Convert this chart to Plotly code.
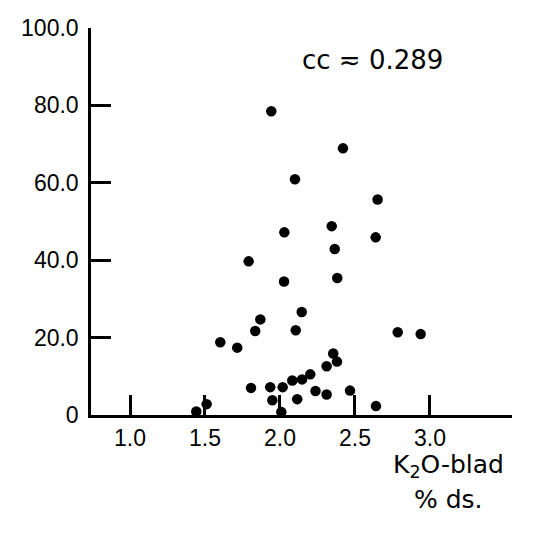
import plotly.graph_objects as go

# K2O-blad (% ds.) values and y-values
k2o = [1.942, 2.100, 2.420, 2.651, 2.345, 2.029, 2.638, 2.365, 1.791, 2.027,
       2.382, 2.145, 1.869, 1.835, 2.105, 1.602, 1.715, 2.785, 2.938, 2.355,
       2.380, 2.311, 2.202, 2.147, 2.082, 2.018, 1.935, 1.807, 2.237, 2.311,
       2.467, 1.949, 2.115, 1.511, 1.442, 2.009, 2.640]
yvals = [78.5, 60.9, 68.9, 55.7, 48.8, 47.2, 45.9, 42.9, 39.7, 34.5,
         35.4, 26.6, 24.7, 21.7, 21.9, 18.8, 17.4, 21.4, 20.9, 15.9,
         13.8, 12.6, 10.5, 9.2, 8.9, 7.2, 7.2, 7.0, 6.2, 5.3,
         6.3, 3.8, 4.1, 2.8, 0.9, 0.8, 2.3]

x_tickvals = [1.0, 1.5, 2.0, 2.5, 3.0]
x_ticktext = ["1.0", "1.5", "2.0", "2.5", "3.0"]
y_tickvals = [0, 20, 40, 60, 80, 100]
y_ticktext = ["0", "20.0", "40.0", "60.0", "80.0", "100.0"]

cc_label = "cc ≂ 0.289"
x_title_1 = "K<sub>2</sub>O-blad"
x_title_2 = "% ds."

fig = go.Figure()
fig.add_trace(go.Scatter(
    x=k2o, y=yvals, mode="markers",
    marker=dict(color="black", size=10.5, line=dict(width=0)),
    cliponaxis=False, showlegend=False,
))

axis_common = dict(
    showgrid=False, zeroline=False, showline=True, linecolor="black",
    linewidth=2.5, ticks="inside", ticklen=20, tickwidth=2.5,
    tickcolor="black", automargin=False,
    tickfont=dict(family="Liberation Sans, Arial, sans-serif", size=23, color="black"),
)

fig.update_xaxes(range=[0.74, 3.547], tickmode="array", tickvals=x_tickvals,
                 ticktext=x_ticktext, ticklabelstandoff=1, **axis_common)
fig.update_yaxes(range=[0, 100], tickmode="array", tickvals=y_tickvals,
                 ticktext=y_ticktext, ticklabelstandoff=5, **axis_common)

cc_font = dict(family="DejaVu Sans, sans-serif", size=26, color="black")
txt_font = dict(family="DejaVu Sans, sans-serif", size=25, color="black")
fig.add_annotation(text=cc_label, xref="paper", yref="paper", x=0.6686, y=0.917,
                   showarrow=False, font=cc_font, xanchor="center", yanchor="middle")
fig.add_annotation(text=x_title_1, xref="paper", yref="paper", x=0.850, y=-0.133,
                   showarrow=False, font=txt_font, xanchor="center", yanchor="middle")
fig.add_annotation(text=x_title_2, xref="paper", yref="paper", x=0.850, y=-0.218,
                   showarrow=False, font=txt_font, xanchor="center", yanchor="middle")

# the page body adds an 8px offset, so the figure is 526px and margins are shifted
fig.update_layout(
    width=526, height=526, autosize=False,
    margin=dict(l=83, r=22, t=20, b=119),
    paper_bgcolor="white", plot_bgcolor="white",
)

fig.write_html("out.html")
